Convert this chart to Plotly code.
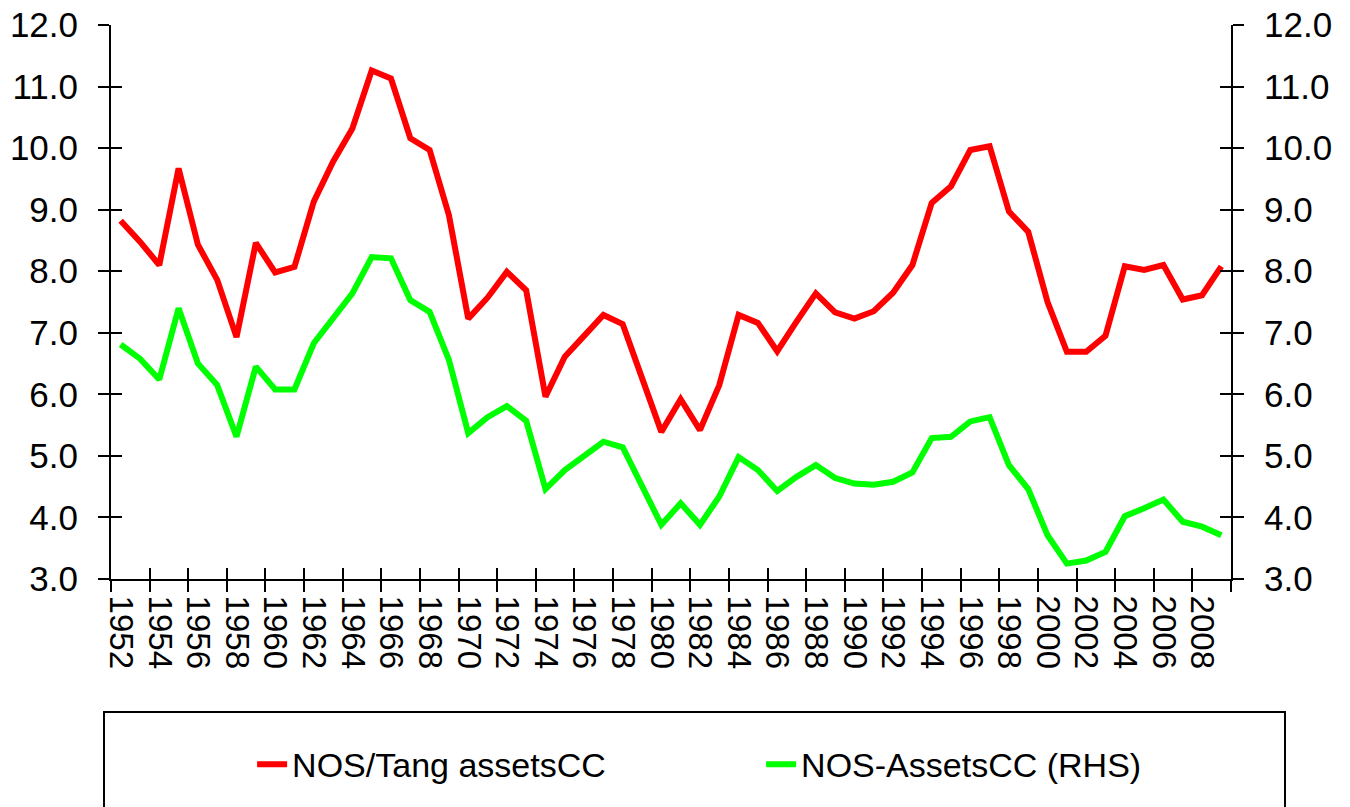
import plotly.graph_objects as go

years = list(range(1952, 2010))

nos_tang_assets_cc = [
    8.82, 8.48, 8.10, 9.67, 8.43, 7.86, 6.93, 8.46, 7.98, 8.07,
    9.13, 9.78, 10.32, 11.26, 11.13, 10.16, 9.97, 8.91, 7.23, 7.57,
    7.99, 7.69, 5.96, 6.61, 6.95, 7.29, 7.14, 6.29, 5.39, 5.92,
    5.42, 6.15, 7.29, 7.16, 6.70, 7.18, 7.64, 7.33, 7.23, 7.35,
    7.65, 8.10, 9.11, 9.38, 9.97, 10.03, 8.97, 8.64, 7.50, 6.69,
    6.69, 6.95, 8.08, 8.02, 8.10, 7.54, 7.61, 8.08,
]

nos_assets_cc_rhs = [
    6.81, 6.58, 6.24, 7.40, 6.50, 6.15, 5.31, 6.45, 6.08, 6.08,
    6.83, 7.23, 7.64, 8.23, 8.21, 7.53, 7.34, 6.56, 5.37, 5.63,
    5.81, 5.57, 4.46, 4.77, 4.99, 5.23, 5.14, 4.53, 3.88, 4.23,
    3.88, 4.34, 4.98, 4.77, 4.43, 4.66, 4.85, 4.64, 4.55, 4.53,
    4.58, 4.73, 5.29, 5.31, 5.56, 5.63, 4.85, 4.46, 3.71, 3.25,
    3.30, 3.44, 4.02, 4.15, 4.29, 3.93, 3.85, 3.71,
]

tick_years = list(range(1952, 2009, 2))
tick_labels = [str(y) for y in tick_years]
boundaries = [y - 0.5 for y in range(1952, 2011, 2)]
y_ticks = [3, 4, 5, 6, 7, 8, 9, 10, 11, 12]

FONT = "Liberation Sans, Arial, sans-serif"
x_range = [1951.5, 2009.5]
y_range = [3, 12]

fig = go.Figure()
fig.add_trace(go.Scatter(
    x=years, y=nos_tang_assets_cc, name="NOS/Tang assetsCC",
    mode="lines", line=dict(color="#FF0000", width=6), yaxis="y",
))
fig.add_trace(go.Scatter(
    x=years, y=nos_assets_cc_rhs, name="NOS-AssetsCC (RHS)",
    mode="lines", line=dict(color="#00FF00", width=6), yaxis="y2",
))
# invisible helpers so overlay axes (inside tick halves) are rendered
fig.add_trace(go.Scatter(x=years, y=nos_tang_assets_cc, xaxis="x2", yaxis="y3",
                         mode="lines", line=dict(width=0), opacity=0,
                         showlegend=False, hoverinfo="skip"))
fig.add_trace(go.Scatter(x=years, y=nos_assets_cc_rhs, xaxis="x2", yaxis="y4",
                         mode="lines", line=dict(width=0), opacity=0,
                         showlegend=False, hoverinfo="skip"))

tick_font = dict(family=FONT, size=35, color="black")

fig.update_layout(
    width=1350, height=807,
    margin=dict(l=111, r=119, t=25, b=228, autoexpand=False),
    paper_bgcolor="white", plot_bgcolor="white",
    showlegend=True,
    legend=dict(
        orientation="h", x=0.126, xanchor="left", y=-0.335, yanchor="middle",
        font=dict(family=FONT, size=34, color="black"),
        bgcolor="rgba(0,0,0,0)", borderwidth=0,
        entrywidth=464, entrywidthmode="pixels",
    ),
    xaxis=dict(
        range=x_range, showgrid=False, zeroline=False, automargin=False,
        showline=True, linecolor="black", linewidth=2,
        tickmode="array", tickvals=tick_years, ticktext=tick_labels,
        ticks="", tickangle=90, ticklabelstandoff=8,
        tickfont=dict(family=FONT, size=33, color="black"),
        minor=dict(tickmode="array", tickvals=boundaries, ticks="outside",
                   ticklen=11, tickwidth=2, tickcolor="black", showgrid=False),
    ),
    xaxis2=dict(
        range=x_range, overlaying="x", anchor="y", side="bottom", automargin=False,
        showgrid=False, zeroline=False, showline=False, showticklabels=False,
        tickmode="array", tickvals=boundaries, ticks="inside",
        ticklen=11, tickwidth=2, tickcolor="black",
    ),
    yaxis=dict(
        range=y_range, showgrid=False, zeroline=False, automargin=False,
        showline=True, linecolor="black", linewidth=2,
        tickmode="array", tickvals=y_ticks, tickformat=".1f",
        ticks="outside", ticklen=11, tickwidth=2, tickcolor="black",
        ticklabelstandoff=13, tickfont=tick_font,
    ),
    yaxis2=dict(
        range=y_range, overlaying="y", side="right", anchor="x", automargin=False,
        showgrid=False, zeroline=False,
        showline=True, linecolor="black", linewidth=2,
        tickmode="array", tickvals=y_ticks, tickformat=".1f",
        ticks="outside", ticklen=11, tickwidth=2, tickcolor="black",
        ticklabelstandoff=13, tickfont=tick_font,
    ),
    yaxis3=dict(
        range=y_range, overlaying="y", side="left", anchor="x", automargin=False,
        showgrid=False, zeroline=False, showline=False, showticklabels=False,
        tickmode="array", tickvals=y_ticks,
        ticks="inside", ticklen=11, tickwidth=2, tickcolor="black",
    ),
    yaxis4=dict(
        range=y_range, overlaying="y", side="right", anchor="x", automargin=False,
        showgrid=False, zeroline=False, showline=False, showticklabels=False,
        tickmode="array", tickvals=y_ticks,
        ticks="inside", ticklen=11, tickwidth=2, tickcolor="black",
    ),
    shapes=[dict(
        type="rect", xref="paper", yref="paper",
        x0=(104 - 111) / 1120, x1=(1285 - 111) / 1120,
        y0=(579 - 712) / 554, y1=(579 - 840) / 554,
        line=dict(color="black", width=2), fillcolor="rgba(0,0,0,0)",
        layer="above",
    )],
)

fig.write_html("out.html", config={"displayModeBar": False},
               post_script="document.body.style.margin='0';document.body.style.overflow='hidden';")
